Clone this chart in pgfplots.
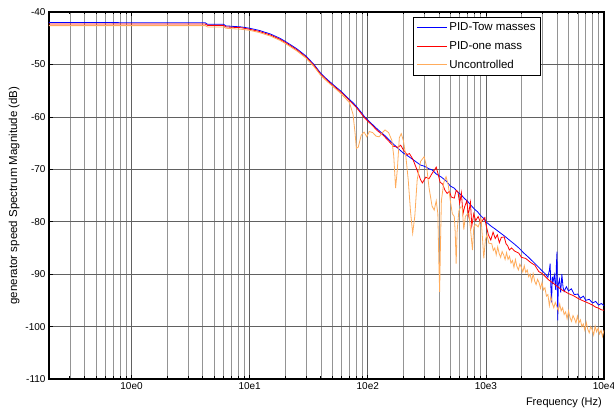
\documentclass[border=0pt]{standalone}
\usepackage{pgfplots}
\pgfplotsset{compat=1.18}
\usepackage{fontspec}
\setmainfont{Liberation Sans}
\definecolor{uncol}{RGB}{255,172,92}

\begin{document}
\begin{tikzpicture}
\path[use as bounding box] (-49pt,-35pt) rectangle (565pt,379pt);
\begin{axis}[
  scale only axis, width=555pt, height=367pt,
  xmode=log, xmin=0.2, xmax=10000, ymin=-110, ymax=-40,
  xtick={1,10,100,1000,10000},
  xticklabels={10e0,10e1,10e2,10e3,10e4},
  minor xtick={0.3,0.4,0.5,0.6,0.7,0.8,0.9,2,3,4,5,6,7,8,9,20,30,40,50,60,70,80,90,
    200,300,400,500,600,700,800,900,2000,3000,4000,5000,6000,7000,8000,9000},
  ytick={-110,-100,-90,-80,-70,-60,-50,-40},
  tick pos=both, tick align=inside,
  major tick length=4pt, minor tick length=2.5pt,
  tick style={black, line width=0.6pt},
  axis line style={line width=1.3pt},
  grid=both,
  major grid style={black!62, line width=0.6pt},
  minor grid style={black!42, line width=0.55pt},
  ticklabel style={font=\fontsize{10}{12}\selectfont},
  /pgf/number format/assume math mode=true,
  xlabel={Frequency (Hz)},
  xlabel style={at={(axis description cs:1,0)}, anchor=north east, yshift=-18pt, xshift=-2pt, inner sep=0pt, font=\fontsize{11}{13}\selectfont},
  ylabel={generator speed Spectrum Magnitude (dB)},
  ylabel style={at={(axis description cs:-0.063,0.5)}, anchor=center, font=\fontsize{11.5}{13}\selectfont},
  legend style={at={(axis description cs:0.8865,0.986)}, anchor=north east, draw=black, line width=0.8pt,
    font=\fontsize{11.5}{13}\selectfont, inner xsep=3pt, inner ysep=3.5pt, row sep=5pt, cells={anchor=west}},
  legend image code/.code={\draw[#1, line width=1pt] (0pt,0pt) -- (30pt,0pt);},
]
% PID-Tow masses
\addplot[blue, line width=0.8pt] coordinates {
(0.2,-42.0) (0.5,-42.0) (1,-42.05) (2,-42.05) (4.2,-42.05) (4.4,-42.35) (6.0,-42.35)
(6.3,-42.65) (8.5,-42.85) (10,-43.1) (12,-43.5) (15,-44.2) (18,-45.0) (20,-45.6) (25,-47.0)
(30,-48.4) (35,-50.0) (40,-51.7) (45,-52.8) (50,-53.7) (55,-54.5) (60,-55.2) (65,-56.0)
(70,-56.7) (75,-57.3) (80,-58.0) (87,-59.0) (94,-60.0) (100,-60.6) (110,-61.5) (120,-62.3)
(130,-63.0) (140,-63.6) (150,-64.3) (165,-65.2) (180,-66.0) (200,-66.9) (220,-67.5)
(250,-68.4) (280,-69.2) (300,-69.4) (330,-69.9) (350,-70.1) (380,-70.9) (420,-71.5)
(460,-72.2) (500,-73.2) (540,-73.6) (580,-74.4) (620,-74.9) (660,-75.6) (700,-76.1)
(750,-76.9) (800,-77.6) (850,-78.1) (900,-78.8) (950,-79.3) (1000,-80.0) (1100,-80.8)
(1200,-81.4) (1300,-82.0) (1450,-82.8) (1600,-83.6) (1750,-84.3) (1900,-85.0) (2100,-86.0)
(2300,-86.8) (2500,-87.6) (2800,-88.7) (3000,-89.4) (3200,-90.0) (3350,-90.6) (3450,-89.2)
(3500,-88.0) (3550,-92.5) (3600,-95.4) (3650,-90.5) (3700,-91.5) (3800,-90.2) (3900,-93.0)
(3950,-88.5) (4000,-85.7) (4030,-93.0) (4060,-98.8) (4100,-92.0) (4200,-91.0) (4300,-93.5)
(4400,-90.0) (4500,-92.5) (4600,-93.3) (4800,-92.4) (5000,-93.2) (5300,-92.8) (5600,-93.9)
(6000,-93.8) (6300,-94.6) (6700,-94.2) (7000,-95.0) (7500,-94.8) (8000,-95.5) (8500,-95.2)
(9000,-95.9) (9500,-95.6) (10000,-96.0)
};
\addlegendentry{PID-Tow masses}
% PID-one mass
\addplot[red, line width=0.8pt] coordinates {
(0.2,-42.3) (4.2,-42.3) (4.4,-42.55) (6.0,-42.55) (6.3,-42.85) (8.5,-43.0) (10,-43.3)
(12,-43.7) (15,-44.4) (18,-45.2) (20,-45.8) (25,-47.2) (30,-48.6) (35,-50.2) (40,-51.9)
(45,-53.0) (50,-53.9) (60,-55.4) (70,-56.9) (80,-58.2) (94,-60.2) (100,-60.8) (110,-61.7)
(120,-62.6) (135,-63.5) (150,-64.6) (165,-65.6) (180,-65.8) (190,-65.4) (200,-66.3)
(215,-67.2) (225,-67.0) (240,-68.0) (260,-70.0) (280,-72.0) (290,-72.6) (310,-71.5)
(330,-71.8) (350,-70.8) (370,-70.0) (380,-69.6) (395,-71.0) (410,-72.5) (430,-72.8)
(450,-74.0) (470,-74.6) (490,-74.2) (510,-75.3) (540,-75.5) (560,-74.0) (580,-74.3)
(600,-76.5) (620,-74.5) (640,-78.5) (660,-77.2) (690,-76.0) (710,-78.8) (740,-76.3)
(760,-80.8) (790,-78.5) (820,-79.8) (860,-79.0) (900,-80.2) (940,-79.7) (980,-79.2)
(1000,-80.5) (1050,-82.5) (1100,-83.5) (1150,-82.0) (1200,-83.2) (1250,-82.5) (1300,-84.0)
(1350,-83.0) (1430,-82.9) (1480,-84.2) (1530,-84.6) (1580,-85.4) (1650,-85.0) (1750,-85.6)
(1900,-86.0) (2000,-86.8) (2170,-87.0) (2400,-87.8) (2600,-88.3) (2800,-89.5) (3000,-89.9)
(3200,-90.5) (3400,-91.1) (3700,-91.7) (4000,-92.3) (4400,-93.0) (5000,-93.7) (5500,-94.1)
(6000,-94.6) (6500,-95.0) (7000,-95.3) (7500,-95.6) (8000,-95.9) (8500,-96.3) (9000,-96.5)
(9500,-96.8) (10000,-96.9)
};
\addlegendentry{PID-one mass}
% Uncontrolled
\addplot[uncol, line width=0.8pt] coordinates {
(0.2,-42.6) (4.2,-42.6) (4.4,-42.85) (6.0,-42.85) (6.3,-43.1) (8.5,-43.3) (10,-43.5)
(12,-43.9) (15,-44.6) (18,-45.4) (20,-46.0) (25,-47.4) (30,-48.8) (35,-50.4) (40,-52.1)
(45,-53.2) (50,-54.1) (55,-54.9) (60,-55.7) (65,-56.5) (70,-57.3) (75,-59.5) (78,-63.0)
(80,-66.0) (83,-65.8) (88,-63.5) (93,-62.9) (98,-63.8) (103,-62.8) (110,-63.0) (118,-63.7)
(125,-63.8) (133,-63.0) (140,-62.5) (150,-63.0) (160,-64.5) (166,-67.5) (172,-73.6)
(178,-70.0) (185,-64.0) (192,-63.2) (200,-64.5) (210,-67.5) (220,-72.0) (230,-78.0)
(240,-82.2) (250,-79.0) (262,-72.0) (280,-68.5) (300,-67.6) (315,-69.5) (330,-73.5)
(350,-77.0) (365,-77.8) (380,-76.0) (392,-78.5) (400,-88.0) (406,-93.4) (412,-85.0)
(420,-76.0) (440,-72.5) (460,-71.4) (480,-73.0) (500,-76.0) (520,-78.5) (540,-79.0)
(550,-82.0) (560,-88.0) (570,-82.0) (590,-78.0) (610,-77.2) (630,-77.2) (650,-81.5)
(670,-79.0) (700,-78.5) (720,-78.5) (745,-82.0) (770,-85.4) (790,-81.0) (820,-80.5)
(860,-81.0) (910,-79.4) (935,-83.0) (960,-87.0) (990,-83.5) (1020,-82.5) (1060,-84.1)
(1122,-84.2) (1155,-85.5) (1189,-85.0) (1223,-86.3) (1259,-84.8) (1296,-86.1) (1334,-86.8)
(1372,-85.7) (1413,-86.3) (1454,-87.2) (1496,-85.9) (1540,-87.2) (1585,-86.6) (1631,-87.9)
(1679,-87.4) (1728,-88.7) (1778,-87.2) (1830,-88.5) (1884,-89.2) (1939,-88.1) (1995,-88.7)
(2054,-89.6) (2113,-88.4) (2175,-89.7) (2239,-89.2) (2304,-90.5) (2371,-90.0) (2441,-91.4)
(2512,-89.9) (2585,-91.3) (2661,-92.0) (2738,-91.0) (2818,-91.6) (2901,-92.7) (2985,-91.6)
(3073,-93.0) (3162,-92.6) (3255,-94.2) (3350,-93.9) (3447,-96.0) (3548,-94.2) (3652,-95.6)
(3758,-96.4) (3868,-95.4) (3981,-96.1) (4097,-97.0) (4217,-95.7) (4340,-97.0) (4467,-96.4)
(4597,-97.7) (4732,-97.2) (4870,-98.5) (5012,-97.0) (5158,-98.3) (5309,-99.0) (5464,-97.9)
(5623,-98.5) (5788,-99.3) (5957,-98.0) (6131,-99.3) (6310,-98.7) (6494,-100.0) (6683,-99.5)
(6879,-100.7) (7079,-99.2) (7286,-100.5) (7499,-101.2) (7718,-100.0) (7943,-100.6)
(8175,-101.6) (8414,-99.9) (8660,-101.0) (8913,-100.3) (9173,-101.4) (9441,-100.7)
(9716,-101.9) (10000,-100.7)
};
\addlegendentry{Uncontrolled}
\end{axis}
\end{tikzpicture}
\end{document}
